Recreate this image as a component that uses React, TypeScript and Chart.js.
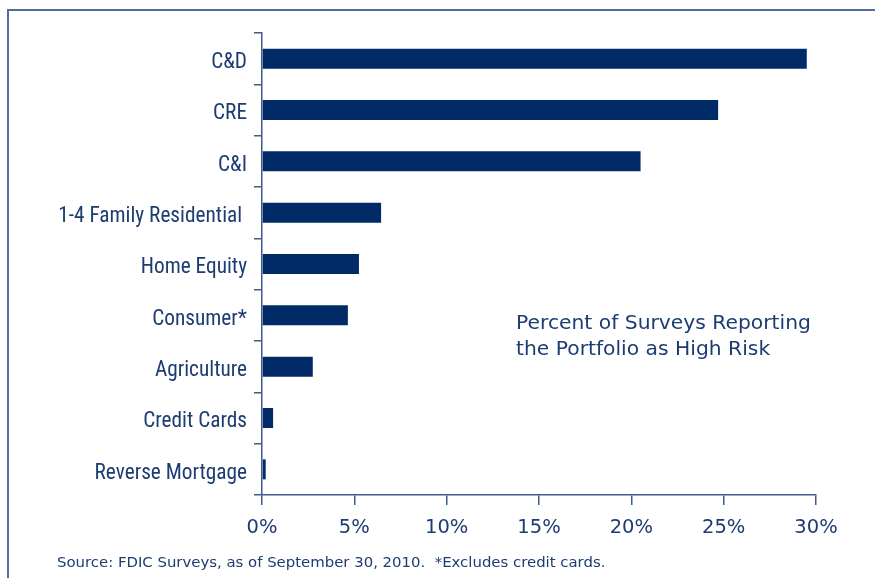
import React, { useEffect, useRef } from "react";
import { Chart, registerables } from "chart.js";

Chart.register(...registerables);

const categories = [
  "C&D",
  "CRE",
  "C&I",
  "1-4 Family Residential ",
  "Home Equity",
  "Consumer*",
  "Agriculture",
  "Credit Cards",
  "Reverse Mortgage",
];
const values = [29.5, 24.7, 20.5, 6.45, 5.25, 4.65, 2.75, 0.6, 0.2];
const xTicks = [0, 5, 10, 15, 20, 25, 30];
const annotationLines = ["Percent of Surveys Reporting", "the Portfolio as High Risk"];
const sourceNote = "Source: FDIC Surveys, as of September 30, 2010.  *Excludes credit cards.";

const NAVY = "#002b66";
const TEXT = "#1d3c72";
const AXIS = "#3e5c8c";
const WIDE = "'DejaVu Sans', 'Liberation Sans', sans-serif";

export default function App() {
  const ref = useRef<HTMLCanvasElement>(null);

  useEffect(() => {
    document.body.style.margin = "0";
    const textPlugin = {
      id: "extraText",
      afterDraw(chart: any) {
        const ctx = chart.ctx;
        ctx.save();
        ctx.fillStyle = TEXT;
        ctx.textAlign = "left";
        ctx.textBaseline = "middle";
        ctx.font = "20.3px " + WIDE;
        ctx.fillText(annotationLines[0], 516, 324);
        ctx.fillText(annotationLines[1], 516, 350);
        ctx.font = "14.9px " + WIDE;
        ctx.fillText(sourceNote, 57, 563);
        ctx.restore();
      },
    };
    const chart = new Chart(ref.current!, {
      type: "bar",
      data: {
        labels: categories,
        datasets: [
          {
            data: values,
            backgroundColor: NAVY,
            borderWidth: 0,
            categoryPercentage: 1,
            barPercentage: 0.39,
          },
        ],
      },
      options: {
        indexAxis: "y",
        animation: false,
        responsive: false,
        maintainAspectRatio: false,
        layout: { padding: { top: 33, right: 59, left: 0, bottom: 0 } },
        plugins: {
          legend: { display: false },
          tooltip: { enabled: false },
        },
        scales: {
          x: {
            min: 0,
            max: 30,
            afterFit(scale: any) {
              scale.height = 83;
            },
            afterBuildTicks(scale: any) {
              scale.ticks = xTicks.map((v) => ({ value: v }));
            },
            grid: {
              drawOnChartArea: false,
              drawTicks: true,
              tickLength: 10,
              color: AXIS,
              lineWidth: 1.5,
            },
            border: { color: AXIS, width: 1.5 },
            ticks: {
              color: TEXT,
              padding: 11,
              font: { family: WIDE, size: 19.5 },
              callback: (v: any) => v + "%",
            },
          },
          y: {
            afterFit(scale: any) {
              scale.width = 262;
            },
            grid: {
              offset: true,
              drawOnChartArea: false,
              drawTicks: true,
              tickLength: 8,
              color: AXIS,
              lineWidth: 1.5,
            },
            border: { color: AXIS, width: 1.5 },
            ticks: {
              color: TEXT,
              padding: 7,
              labelOffset: 4,
              font: { family: "'Liberation Sans Narrow', 'Roboto Condensed', Roboto, sans-serif", size: 21.3 },
            },
          },
        },
      },
      plugins: [textPlugin],
    });
    return () => chart.destroy();
  }, []);

  return (
    <div style={{ position: "fixed", left: 0, top: 0, width: 875, height: 578, background: "#fff" }}>
      <div
        style={{
          position: "absolute",
          left: 7,
          top: 9,
          width: 868,
          height: 569,
          borderTop: "2px solid #4f6f99",
          borderLeft: "2px solid #4f6f99",
          boxSizing: "border-box",
        }}
      />
      <canvas ref={ref} width={875} height={578} style={{ position: "absolute", left: 0, top: 0 }} />
    </div>
  );
}
